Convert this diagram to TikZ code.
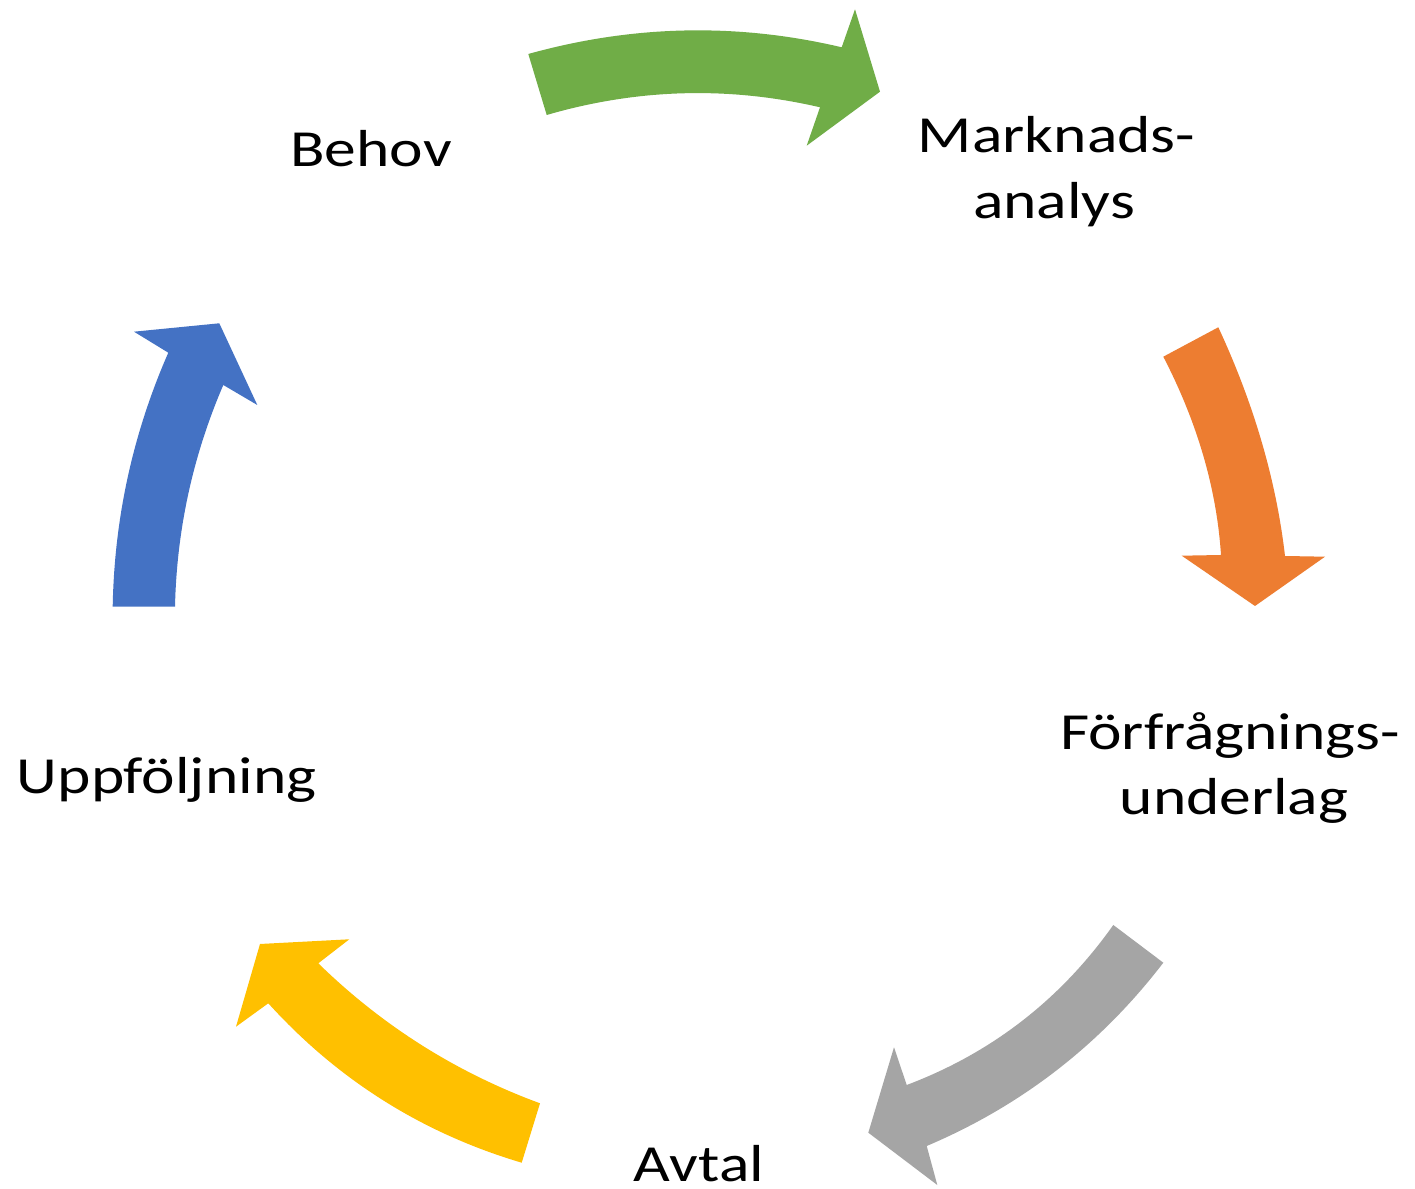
\documentclass[tikz,border=0pt]{standalone}
\usepackage{fontspec}
\newfontfamily\lblfont{Carlito}[FakeStretch=1.22]
\usetikzlibrary{calc}
\definecolor{cgreen}{HTML}{70AD47}
\definecolor{corange}{HTML}{ED7D31}
\definecolor{cgray}{HTML}{A5A5A5}
\definecolor{cyellow}{HTML}{FFC000}
\definecolor{cblue}{HTML}{4472C4}
\newcommand\drawcarrow[2]{%
  \fill[#2] (#1t1) .. controls ($(#1t1)!2/3!(#1qo)$) and ($(#1j1)!2/3!(#1qo)$) .. (#1j1)
    -- (#1w1) -- (#1tip) -- (#1w2) -- (#1j2)
    .. controls ($(#1j2)!2/3!(#1qi)$) and ($(#1t2)!2/3!(#1qi)$) .. (#1t2) -- cycle;}
\begin{document}
\begin{tikzpicture}[x=0.01cm,y=-0.01cm,
  lbl/.style={anchor=base,inner sep=0pt,font=\lblfont\fontsize{14.8}{18}\selectfont,text=black}]
\useasboundingbox[fill=white] (0,0) rectangle (1415,1189);
% green arrow
\coordinate (gt1) at (528.3,54);   \coordinate (gqo) at (685,10.35);
\coordinate (gj1) at (841.7,47.3); \coordinate (gw1) at (855,9.3);
\coordinate (gtip) at (880,91.7);  \coordinate (gw2) at (806.7,145.7);
\coordinate (gj2) at (820,107.3);  \coordinate (gqi) at (682.65,75.45);
\coordinate (gt2) at (546.7,115);
\drawcarrow{g}{cgreen}
% orange arrow
\coordinate (ot1) at (1218.3,327.3); \coordinate (oqo) at (1271.75,442.35);
\coordinate (oj1) at (1285,556);     \coordinate (ow1) at (1325,556.7);
\coordinate (otip) at (1255,606);    \coordinate (ow2) at (1181.7,555.7);
\coordinate (oj2) at (1221,555);     \coordinate (oqi) at (1214.45,455.55);
\coordinate (ot2) at (1163.3,356.7);
\drawcarrow{o}{corange}
% gray arrow
\coordinate (rt1) at (1163.3,962.7); \coordinate (rqo) at (1069,1085.65);
\coordinate (rj1) at (926.7,1146);   \coordinate (rw1) at (937.3,1185);
\coordinate (rtip) at (868.3,1132.7);\coordinate (rw2) at (894,1047.3);
\coordinate (rj2) at (906.7,1085);   \coordinate (rqi) at (1034,1037);
\coordinate (rt2) at (1113.3,925);
\drawcarrow{r}{cgray}
% yellow arrow
\coordinate (yt1) at (521.7,1162.7); \coordinate (yqo) at (372.7,1118.5);
\coordinate (yj1) at (268.3,1003.3); \coordinate (yw1) at (236,1026.7);
\coordinate (ytip) at (260,944);     \coordinate (yw2) at (349.3,939.3);
\coordinate (yj2) at (318.3,963.3);  \coordinate (yqi) at (414.2,1057);
\coordinate (yt2) at (540,1103.3);
\drawcarrow{y}{cyellow}
% blue arrow
\coordinate (bt1) at (112.7,606.7);  \coordinate (bqo) at (115.1,474.1);
\coordinate (bj1) at (168.3,352.7);  \coordinate (bw1) at (134,331.7);
\coordinate (btip) at (219.3,323.3); \coordinate (bw2) at (257.3,405);
\coordinate (bj2) at (223.3,385);    \coordinate (bqi) at (177.6,491.2);
\coordinate (bt2) at (175,606.7);
\drawcarrow{b}{cblue}
% labels
\node[lbl] (behov) at (371,166.7) {Behov};
\node[lbl] (mark1) at (1056.5,152.7) {Marknads-};
\node[lbl] (mark2) at (1054,218.3) {analys};
\node[lbl] (forf1) at (1230,749.3) {Förfrågnings-};
\node[lbl] (forf2) at (1234,815) {underlag};
\node[lbl] (avtal) at (699,1182) {Avtal};
\node[lbl] (uppf) at (166.7,793.3) {Uppföljning};
\end{tikzpicture}
\end{document}
